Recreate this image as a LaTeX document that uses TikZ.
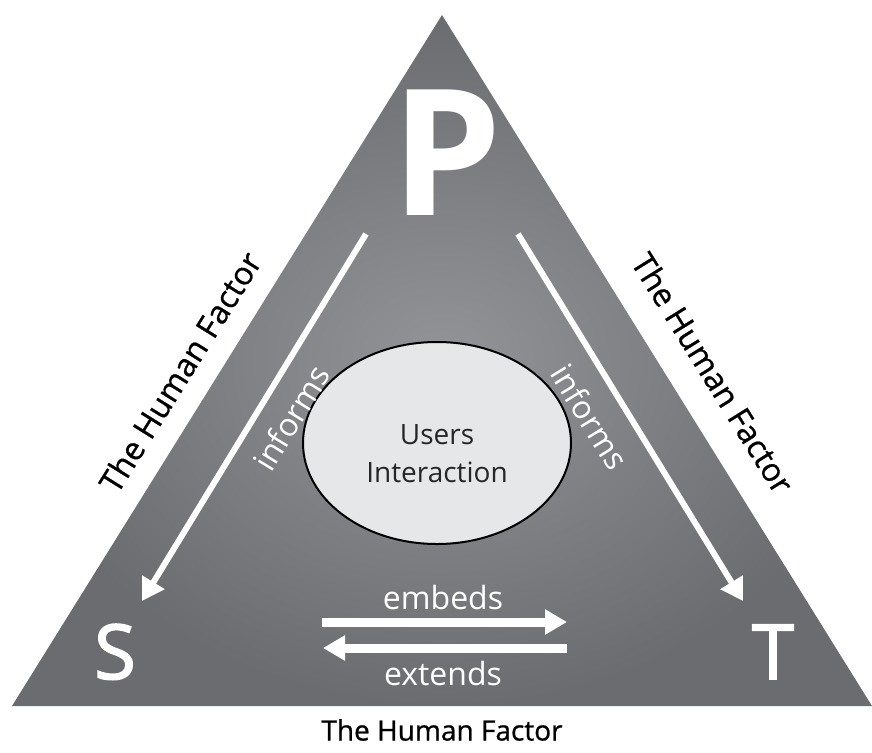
\documentclass[tikz,border=0pt]{standalone}
\usepackage{fontspec}
\setmainfont{Open Sans}
\newfontfamily\heavyface{Open Sans}[FakeBold=2]
\newfontfamily\mediumface{Open Sans}[FakeBold=0.8]
\usetikzlibrary{arrows.meta}

\definecolor{slateIn}{HTML}{939497}
\definecolor{slateOut}{HTML}{6B6C70}
\definecolor{bubble}{HTML}{E6E7E9}

\tikzset{
  corner/.style={white, inner sep=0pt, anchor=base},
  flow/.style={white, line width=6pt, -{Triangle[length=22pt,width=25pt]}},
  swap/.style={white, line width=9pt, -{Triangle[length=22pt,width=24pt]}},
  verb/.style={white, inner sep=0pt, font=\fontsize{32}{38}\selectfont},
  side/.style={black, inner sep=0pt, font=\mediumface\fontsize{32}{38}\selectfont},
}

\begin{document}
\begin{tikzpicture}[x=1pt, y=-1pt]
  \useasboundingbox (0,0) rectangle (872,752);

  % the shaded triangle
  \coordinate (apex) at (442,15);
  \coordinate (baseL) at (12,706);
  \coordinate (baseR) at (872,706);
  \shade[inner color=slateIn, outer color=slateOut] (apex) -- (baseL) -- (baseR) -- cycle;

  % corner letters
  \node[corner, font=\bfseries\fontsize{176}{176}\selectfont] (P) at (447,215) {P};
  \node[corner, font=\heavyface\fontsize{76}{76}\selectfont] (S) at (115,679) {S};
  \node[corner, font=\heavyface\fontsize{76}{76}\selectfont] (T) at (773,679) {T};

  % central ellipse
  \draw[line width=2pt, fill=bubble] (437,443) ellipse [x radius=134, y radius=101];
  \node[align=center, inner sep=0pt, font=\fontsize{28}{38}\selectfont, text=black!85] (UI) at (437,454) {Users\\Interaction};

  % informs arrows
  \coordinate (pS0) at (366,234);
  \coordinate (pS1) at (142,601);
  \coordinate (pT0) at (518,234);
  \coordinate (pT1) at (743,601);
  \draw[flow] (pS0) -- (pS1);
  \draw[flow] (pT0) -- (pT1);
  \node[verb, rotate=58.5] (infL) at (291,418) {informs};
  \node[verb, rotate=-58.5] (infR) at (590,417) {informs};

  % embeds / extends arrows
  \coordinate (eA) at (322,622);
  \coordinate (eB) at (567,622);
  \coordinate (xA) at (567,648);
  \coordinate (xB) at (323,648);
  \draw[swap] (eA) -- (eB);
  \draw[swap] (xA) -- (xB);
  \node[verb] (emb) at (443,597) {embeds};
  \node[verb] (ext) at (443,673) {extends};

  % side labels
  \node[side, rotate=58.1] (hfL) at (180,372) {The Human Factor};
  \node[side, rotate=-58.1] (hfR) at (713,373) {The Human Factor};
  \node[side, font=\mediumface\fontsize{28}{34}\selectfont] (hfB) at (442,730) {The Human Factor};
\end{tikzpicture}
\end{document}
